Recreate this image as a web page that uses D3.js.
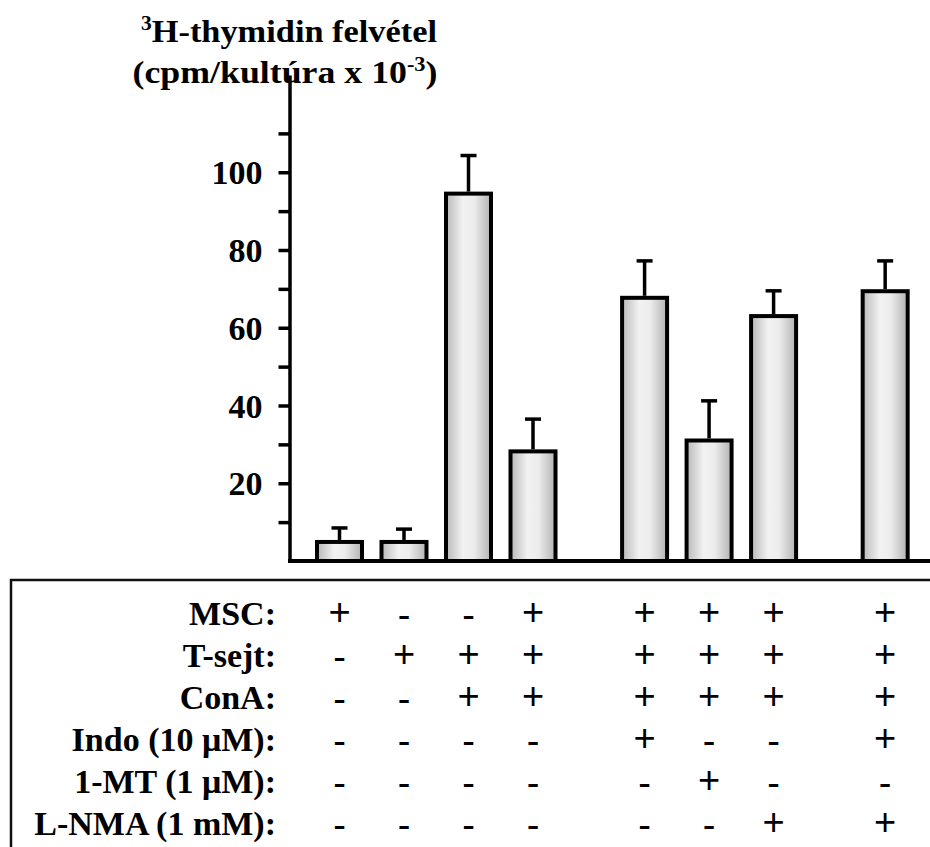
<!DOCTYPE html>
<html>
<head>
<meta charset="utf-8">
<script src="https://cdn.jsdelivr.net/npm/d3@7"></script>
<style>
  html, body { margin: 0; padding: 0; background: #fff; }
  svg { display: block; }
</style>
</head>
<body>
<svg id="chart" width="930" height="847"></svg>
<script>
// Proliferation (3H-thymidine uptake) under the different culture conditions
const conditions = ["MSC", "T-sejt", "ConA", "Indo (10 μM)", "1-MT (1 μM)", "L-NMA (1 mM)"];
const means  = [4.9, 4.9, 94.5, 28.2, 67.7, 31.0, 63.0, 69.4];
const errors = [3.6, 3.3, 9.8, 8.3, 9.5, 10.2, 6.5, 7.8];
// one string per culture, one character per condition row
const treatments = ["+-----", "-+----", "-++---", "+++---", "++++--", "+++-+-", "+++--+", "++++-+"];
const barGroups  = [0, 0, 0, 0, 1, 1, 1, 2];
const yTicks      = [10, 20, 30, 40, 50, 60, 70, 80, 90, 100, 110];
const yTickLabels = [20, 40, 60, 80, 100];

const svg = d3.select("#chart");
const serif = "'Liberation Serif', 'Times New Roman', serif";
const sans  = "'Liberation Sans', Arial, sans-serif";

const axisX = 289.5, baseY = 561;
const y = d3.scaleLinear().domain([0, 125]).range([baseY, 561 - 125 * 3.8875]);

// slot position: index plus an extra gap between groups of cultures
const slot = means.map((d, i) => i + barGroups[i] * 0.73);
const x = d3.scaleLinear().domain([0, 1]).range([339.5, 404]);
const barW = 45;

// cylinder-like fill of the bars
const defs = svg.append("defs");
const grad = defs.append("linearGradient").attr("id", "barFill")
  .attr("x1", "0%").attr("x2", "100%").attr("y1", "0%").attr("y2", "0%");
grad.append("stop").attr("offset", "0%").attr("stop-color", "#b9b9b9");
grad.append("stop").attr("offset", "38%").attr("stop-color", "#f2f2f2");
grad.append("stop").attr("offset", "62%").attr("stop-color", "#ececec");
grad.append("stop").attr("offset", "100%").attr("stop-color", "#b3b3b3");

// title
const title = svg.append("g").attr("font-family", serif).attr("font-weight", "bold")
  .attr("font-size", 32).attr("text-anchor", "middle").attr("fill", "#000");
const t1 = title.append("text").attr("x", 289).attr("y", 42)
  .attr("textLength", 296).attr("lengthAdjust", "spacingAndGlyphs");
t1.append("tspan").attr("font-size", 20).attr("dy", -12).text("3");
t1.append("tspan").attr("dy", 12).text("H-thymidin felvétel");
const t2 = title.append("text").attr("x", 285).attr("y", 83)
  .attr("textLength", 305).attr("lengthAdjust", "spacingAndGlyphs");
t2.append("tspan").text("(cpm/kultúra x 10");
t2.append("tspan").attr("font-size", 20).attr("dy", -12).text("-3");
t2.append("tspan").attr("dy", 12).text(")");

// y axis
const yAxis = d3.axisLeft(y).tickValues(yTicks).tickSize(11).tickSizeOuter(0)
  .tickFormat(d => yTickLabels.includes(d) ? d : "");
const gy = svg.append("g").attr("transform", `translate(${axisX},0)`).call(yAxis);
gy.select(".domain").attr("stroke", "#000").attr("stroke-width", 3.5);
gy.selectAll(".tick line").attr("stroke", "#000").attr("stroke-width", 3.5);
gy.selectAll(".tick text").attr("font-family", serif).attr("font-weight", "bold")
  .attr("font-size", 34).attr("fill", "#000").attr("x", -27).attr("dy", "0.34em");

// baseline
svg.append("line").attr("x1", axisX - 1.5).attr("x2", 930).attr("y1", baseY).attr("y2", baseY)
  .attr("stroke", "#000").attr("stroke-width", 4);

// bars
svg.append("g").selectAll("rect").data(means).join("rect")
  .attr("x", (d, i) => x(slot[i]) - barW / 2)
  .attr("y", d => y(d))
  .attr("width", barW)
  .attr("height", d => y(0) - y(d))
  .attr("fill", "url(#barFill)")
  .attr("stroke", "#000").attr("stroke-width", 4);

// error bars (upper whisker only)
const eg = svg.append("g").attr("stroke", "#000").attr("stroke-width", 3.5);
eg.selectAll("line.whisker").data(means).join("line").attr("class", "whisker")
  .attr("x1", (d, i) => x(slot[i])).attr("x2", (d, i) => x(slot[i]))
  .attr("y1", d => y(d) - 2).attr("y2", (d, i) => y(d + errors[i]));
eg.selectAll("line.cap").data(means).join("line").attr("class", "cap")
  .attr("x1", (d, i) => x(slot[i]) - 8).attr("x2", (d, i) => x(slot[i]) + 8)
  .attr("y1", (d, i) => y(d + errors[i])).attr("y2", (d, i) => y(d + errors[i]));

// treatment table frame
svg.append("path").attr("d", "M11,847 V580 H930")
  .attr("fill", "none").attr("stroke", "#111").attr("stroke-width", 2.5);

const rowY = d3.scalePoint().domain(conditions).range([625, 835]);

svg.append("g").selectAll("text").data(conditions).join("text")
  .attr("x", 276).attr("y", d => rowY(d))
  .attr("text-anchor", "end").attr("font-family", serif).attr("font-weight", "bold")
  .attr("font-size", 34).attr("fill", "#000")
  .text(d => d + ":");

const cells = [];
treatments.forEach((t, i) => t.split("").forEach((s, r) => cells.push({ i, r, s })));
svg.append("g").selectAll("text").data(cells).join("text")
  .attr("x", d => x(slot[d.i])).attr("y", d => rowY(conditions[d.r]) + (d.s === "-" ? 3 : 0))
  .attr("text-anchor", "middle").attr("font-family", sans)
  .attr("font-size", 38).attr("fill", "#000")
  .text(d => d.s);
</script>
</body>
</html>
